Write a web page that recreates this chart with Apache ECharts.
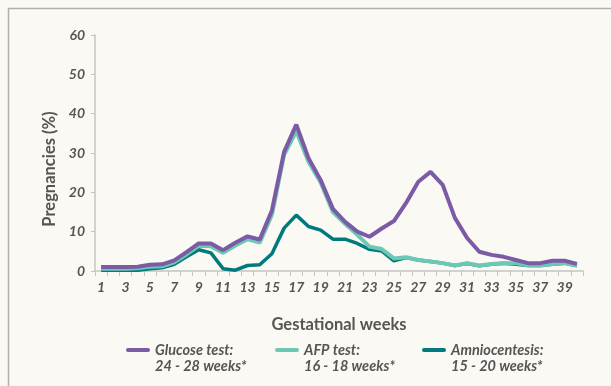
<!DOCTYPE html>
<html>
<head>
<meta charset="utf-8">
<script src="https://cdn.jsdelivr.net/npm/echarts@6/dist/echarts.min.js"></script>
<style>
html,body{margin:0;padding:0;background:#faf9f4;}
#c{width:611px;height:386px;}
</style>
</head>
<body>
<div id="c"></div>
<script>
var weeks = [];
for (var i = 1; i <= 40; i++) weeks.push(String(i));
var seriesNames = ['Glucose test:', 'AFP test:', 'Amniocentesis:'];
var seriesNotes = ['24 - 28 weeks*', '16 - 18 weeks*', '15 - 20 weeks*'];
var glucose = [1.0,1.0,1.0,1.1,1.6,1.7,2.7,4.8,7.0,7.0,5.3,7.2,8.8,8.0,15.4,30.3,37.2,28.7,23.1,15.8,12.5,10.0,8.7,10.8,12.7,17.3,22.7,25.2,21.9,13.5,8.4,4.9,4.1,3.6,2.8,2.0,2.0,2.6,2.6,1.8];
var afp = [0.6,0.6,0.6,0.7,1.1,1.2,2.2,4.2,6.4,6.3,4.6,6.5,8.1,7.2,14.3,29.5,35.6,27.8,22.5,15.0,12.0,9.2,6.2,5.6,3.2,3.5,2.8,2.4,2.0,1.4,2.0,1.4,1.8,2.0,2.0,1.4,1.4,1.8,2.0,1.3];
var amnio = [0.2,0.2,0.2,0.2,0.6,0.8,1.7,3.6,5.4,4.6,0.6,0.2,1.4,1.6,4.4,10.9,14.2,11.3,10.4,8.1,8.1,7.0,5.5,5.1,2.6,3.4,2.8,2.4,2.0,1.4,1.9,1.3,1.7,2.0,1.7,1.4,1.4,1.7,2.0,1.4];
var colors = ['#7b5aa6', '#6cc8b3', '#007a7c'];
var yTicks = [0, 10, 20, 30, 40, 50, 60];

var chart = echarts.init(document.getElementById('c'));
var txt = '#555555';
var font = 'Lato';
// bar at top of a 20-tall box, tiny dot at bottom to keep the box height
var legendIcon = 'path://M2,0 H22 A2,2 0 0 1 22,4 H2 A2,2 0 0 1 2,0 Z M0,19.98 H0.02 V20 H0 Z';
function legendFor(idx, left) {
  return {
    left: left, top: 342, padding: 0,
    data: [seriesNames[idx]],
    icon: legendIcon, itemWidth: 24, itemHeight: 20, itemGap: 0,
    itemStyle: { borderWidth: 0 },
    selectedMode: false,
    formatter: function (n) { return n + '\n' + seriesNotes[seriesNames.indexOf(n)]; },
    textStyle: { color: txt, fontFamily: font, fontStyle: 'italic', fontWeight: 'bold', fontSize: 14.5, lineHeight: 16 }
  };
}
chart.setOption({
  backgroundColor: '#faf9f4',
  animation: false,
  graphic: [
    { type: 'polyline', shape: { points: [[8.5, 400], [8.5, 8.5], [620, 8.5]] }, style: { stroke: '#b0b0b0', lineWidth: 1.5, fill: null } },
    { type: 'text', x: 50, y: 169, rotation: Math.PI / 2, style: { text: 'Pregnancies (%)', fill: txt, font: 'bold 16.5px Lato', align: 'center', verticalAlign: 'middle' } }
  ],
  grid: { left: 95, right: 28, top: 35, bottom: 115 },
  xAxis: {
    type: 'category', data: weeks, boundaryGap: true,
    name: 'Gestational weeks', nameLocation: 'middle', nameGap: 45,
    nameTextStyle: { color: txt, fontFamily: font, fontWeight: 'bold', fontSize: 16.5 },
    axisLine: { lineStyle: { color: '#c4c4c4', width: 1.5 } },
    axisTick: { show: true, interval: 0, length: 5, lineStyle: { color: '#c4c4c4' } },
    axisLabel: { interval: 1, color: txt, fontFamily: font, fontStyle: 'italic', fontWeight: 'bold', fontSize: 14, margin: 9 }
  },
  yAxis: {
    type: 'value', min: yTicks[0], max: yTicks[yTicks.length - 1], interval: 10,
    axisLine: { show: true, lineStyle: { color: '#c4c4c4', width: 1.5 } },
    axisTick: { show: true, length: 4, lineStyle: { color: '#c4c4c4' } },
    splitLine: { show: false },
    axisLabel: { color: txt, fontFamily: font, fontStyle: 'italic', fontWeight: 'bold', fontSize: 14, margin: 10 }
  },
  legend: [legendFor(0, 126), legendFor(1, 275), legendFor(2, 422)],
  series: [
    { name: seriesNames[2], type: 'line', data: amnio, symbol: 'none', z: 2, color: colors[2], lineStyle: { width: 3.5, color: colors[2] } },
    { name: seriesNames[1], type: 'line', data: afp, symbol: 'none', z: 3, color: colors[1], lineStyle: { width: 4, color: colors[1] } },
    { name: seriesNames[0], type: 'line', data: glucose, symbol: 'none', z: 4, color: colors[0], lineStyle: { width: 4, color: colors[0] } }
  ]
});
</script>
</body>
</html>
